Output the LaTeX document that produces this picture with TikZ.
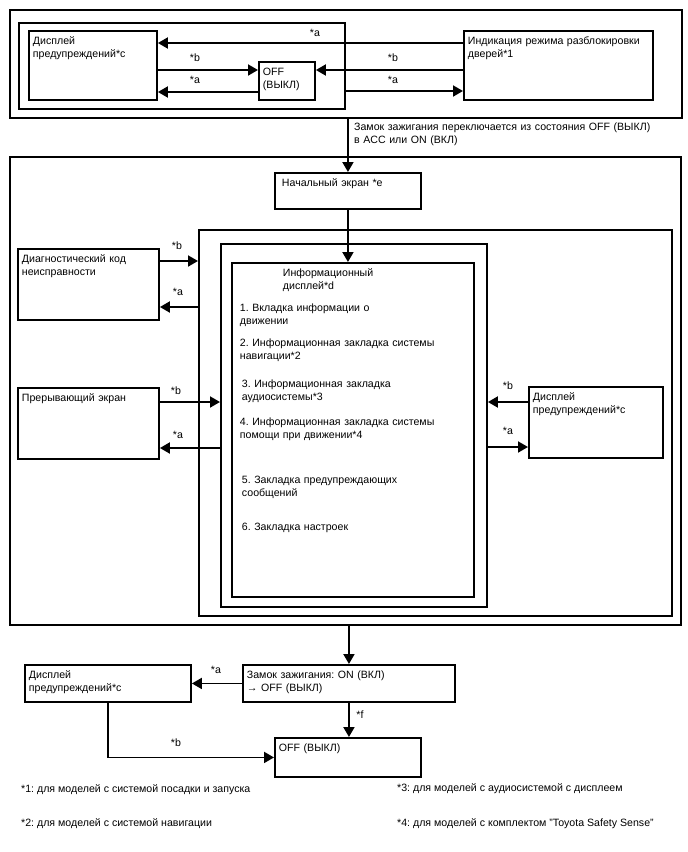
\documentclass[tikz,border=0pt]{standalone}
\usepackage{fontspec}
\setmainfont{Liberation Sans}
\usetikzlibrary{arrows.meta}
\frenchspacing
\begin{document}
\begin{tikzpicture}[x=1pt, y=-1pt,
  font=\fontsize{10.6}{13}\selectfont,
  blk/.style 2 args={draw, line width=1.9pt, anchor=north west, align=left,
    inner xsep=4pt, inner ysep=4pt, text width=#1, text height=9.5pt, text depth=#2},
  frm/.style 2 args={draw, line width=1.9pt, anchor=north west, inner sep=0pt,
    minimum width=#1, minimum height=#2},
  arr/.style={line width=1.9pt, -{Triangle[length=10pt,width=11pt]}},
  lbl/.style={inner sep=0pt},
  note/.style={inner sep=0pt, anchor=base west}]
  \useasboundingbox (0,0) rectangle (688,852);

  \node[frm={672pt}{108pt}] (topOuter) at (9,9) {};
  \node[frm={326pt}{86pt}] (topInner) at (18,22) {};
  \node[blk={120pt}{51.5pt}] (dispTop) at (28,30) {Дисплей\\предупреждений*c};
  \node[blk={48pt}{20.5pt}] (offTop) at (258,61) {OFF\\(ВЫКЛ)};
  \node[blk={181pt}{51.5pt}] (doorInd) at (463,30) {Индикация режима разблокировки\\дверей*1};

  \draw[arr] (doorInd.west |- 0,43) -- (dispTop.east |- 0,43);
  \draw[arr] (dispTop.east |- 0,70) -- (offTop.west |- 0,70);
  \draw[arr] (offTop.west |- 0,92) -- (dispTop.east |- 0,92);
  \draw[arr] (doorInd.west |- 0,70) -- (offTop.east |- 0,70);
  \draw[arr] (topInner.east |- 0,91) -- (doorInd.west |- 0,91);
  \node[lbl] (aTop) at (315,33) {*a};
  \node[lbl] (bTopL) at (195,58) {*b};
  \node[lbl] (aTopL) at (195,80) {*a};
  \node[lbl] (bTopR) at (393,58) {*b};
  \node[lbl] (aTopR) at (393,80) {*a};

  \node[frm={671pt}{468pt}] (midOuter) at (9,156) {};
  \node[blk={138pt}{18.5pt}] (startScr) at (274,172) {\hspace*{3pt}Начальный экран *e};
  \draw[arr] (startScr.north |- topOuter.south) -- (startScr.north);
  \node[inner sep=0pt, anchor=north west, align=left, text width=330pt, text height=9.5pt]
    (keyOn) at (354,121) {Замок зажигания переключается из состояния OFF (ВЫКЛ)\\в ACC или ON (ВКЛ)};

  \node[frm={473pt}{386pt}] (frameA) at (198,229) {};
  \node[frm={266pt}{363pt}] (frameB) at (220,243) {};
  \node[blk={226pt}{316.5pt}, inner xsep=8pt] (infoBox) at (231,262) {%
    \hspace*{43pt}Информационный\\
    \hspace*{43pt}дисплей*d\\[9.5pt]
    1. Вкладка информации о\\
    движении\\[9pt]
    2. Информационная закладка системы\\
    навигации*2\\[15pt]
    \hspace*{2pt}3. Информационная закладка\\
    \hspace*{2pt}аудиосистемы*3\\[12pt]
    4. Информационная закладка системы\\
    помощи при движении*4\\[32pt]
    \hspace*{2pt}5. Закладка предупреждающих\\
    \hspace*{2pt}сообщений\\[21pt]
    \hspace*{2pt}6. Закладка настроек};
  \draw[arr] (startScr.south) -- (startScr.south |- infoBox.north);

  \node[blk={133pt}{53.5pt}] (diagCode) at (17,248) {Диагностический код\\неисправности};
  \node[blk={133pt}{53.5pt}] (interrupt) at (17,387) {Прерывающий экран};
  \node[blk={126pt}{53.5pt}] (dispMid) at (528,386) {Дисплей\\предупреждений*c};

  \draw[arr] (diagCode.east |- 0,261) -- (frameA.west |- 0,261);
  \draw[arr] (frameA.west |- 0,307) -- (diagCode.east |- 0,307);
  \draw[arr] (interrupt.east |- 0,402) -- (frameB.west |- 0,402);
  \draw[arr] (frameB.west |- 0,448) -- (interrupt.east |- 0,448);
  \draw[arr] (dispMid.west |- 0,402) -- (frameB.east |- 0,402);
  \draw[arr] (frameB.east |- 0,447) -- (dispMid.west |- 0,447);
  \node[lbl] (bDiag) at (177,246) {*b};
  \node[lbl] (aDiag) at (178,292) {*a};
  \node[lbl] (bInt) at (176,391) {*b};
  \node[lbl] (aInt) at (178,435) {*a};
  \node[lbl] (bMid) at (508,386) {*b};
  \node[lbl] (aMid) at (508,431) {*a};

  \node[blk={204pt}{19.5pt}] (ignOff) at (242,664) {Замок зажигания: ON (ВКЛ)\\→ OFF (ВЫКЛ)};
  \node[blk={158pt}{19.5pt}] (dispBot) at (24,664) {Дисплей\\предупреждений*c};
  \node[blk={138pt}{21.5pt}] (offBot) at (274,737) {OFF (ВЫКЛ)};

  \draw[arr] (ignOff.north |- midOuter.south) -- (ignOff.north);
  \draw[arr] (ignOff.west) -- (dispBot.east);
  \draw[arr] (ignOff.south) -- (ignOff.south |- offBot.north);
  \draw[arr] (dispBot.south) |- (offBot.west);
  \node[lbl] (aBot) at (216,670) {*a};
  \node[lbl] (fBot) at (360,715) {*f};
  \node[lbl] (bBot) at (176,743) {*b};

  \node[note] (note1) at (21,792) {*1: для моделей с системой посадки и запуска};
  \node[note] (note2) at (21,826) {*2: для моделей с системой навигации};
  \node[note] (note3) at (397,791) {*3: для моделей с аудиосистемой с дисплеем};
  \node[note] (note4) at (397,826) {*4: для моделей с комплектом "Toyota Safety Sense"};
\end{tikzpicture}
\end{document}
